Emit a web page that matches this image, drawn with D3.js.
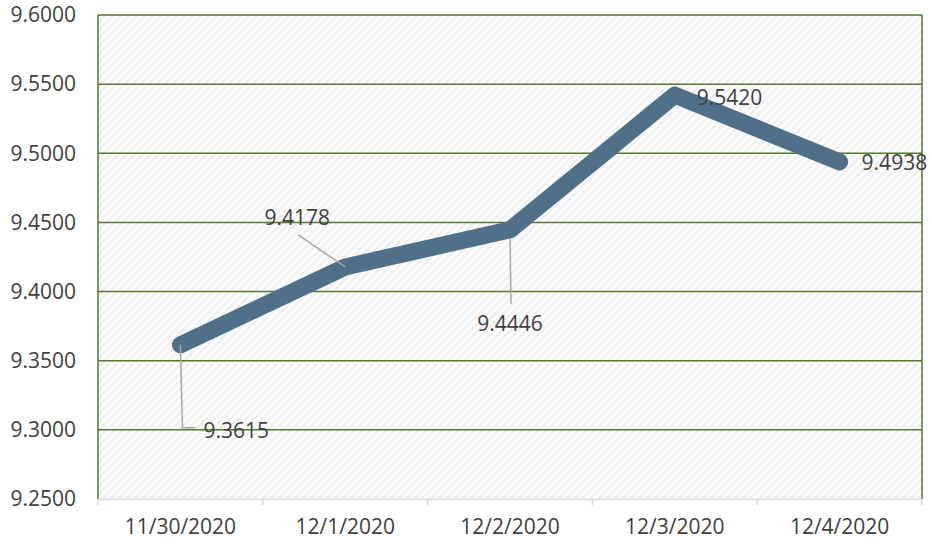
<!DOCTYPE html>
<html lang="en">
<head>
<meta charset="utf-8">
<title>Line chart</title>
<script src="https://cdn.jsdelivr.net/npm/d3@7"></script>
<style>
  body { margin: 0; background: white; }
  svg text { font-family: "Open Sans", sans-serif; fill: #404040; }
</style>
</head>
<body>
<div id="chart"></div>
<script>
// data
var dates = ["11/30/2020", "12/1/2020", "12/2/2020", "12/3/2020", "12/4/2020"];
var values = [9.3615, 9.4178, 9.4446, 9.5420, 9.4938];
var yTicks = [9.25, 9.30, 9.35, 9.40, 9.45, 9.50, 9.55, 9.60];

var W = 932, H = 547;
var margin = {top: 15, right: 10, bottom: 48, left: 98};
var width = W - margin.left - margin.right,
    height = H - margin.top - margin.bottom;

var svg = d3.select("#chart").append("svg")
    .attr("width", W).attr("height", H);

// hatch fill
var defs = svg.append("defs");
var pat = defs.append("pattern")
    .attr("id", "hatch")
    .attr("patternUnits", "userSpaceOnUse")
    .attr("width", 8).attr("height", 8);
pat.append("path")
    .attr("d", "M-2,2 l4,-4 M0,8 l8,-8 M6,10 l4,-4")
    .attr("stroke", "#f0f0f0")
    .attr("stroke-width", 3);

var g = svg.append("g")
    .attr("transform", "translate(" + margin.left + "," + margin.top + ")");

var x = d3.scaleBand().domain(dates).range([0, width]);
var y = d3.scaleLinear().domain([9.25, 9.60]).range([height, 0]);

g.append("rect")
    .attr("width", width).attr("height", height)
    .attr("fill", "url(#hatch)");

// grid lines
g.selectAll(".grid").data(yTicks.slice(1))
  .enter().append("line")
    .attr("x1", 0).attr("x2", width)
    .attr("y1", function(d) { return y(d); })
    .attr("y2", function(d) { return y(d); })
    .attr("stroke", "#4f7a2d").attr("stroke-width", 1.5);

// side borders
g.append("line").attr("x1", 0).attr("x2", 0).attr("y1", 0).attr("y2", height)
    .attr("stroke", "#4f7a2d").attr("stroke-width", 1.5);
g.append("line").attr("x1", width).attr("x2", width).attr("y1", 0).attr("y2", height)
    .attr("stroke", "#4f7a2d").attr("stroke-width", 1.5);

// y axis labels
var yAxis = d3.axisLeft(y).tickValues(yTicks).tickSize(0).tickPadding(22)
    .tickFormat(d3.format(".4f"));
var ya = g.append("g").call(yAxis);
ya.select(".domain").remove();
ya.selectAll("text").style("font-size", "21px").attr("fill", "#404040")
    .style("font-family", "'Open Sans', sans-serif");

// x axis
var xAxis = d3.axisBottom(x).tickSize(0).tickPadding(20);
var xa = g.append("g").attr("transform", "translate(0," + height + ")").call(xAxis);
xa.select(".domain").attr("stroke", "#d9d9d9").attr("stroke-width", 1.5);
xa.selectAll("text").style("font-size", "21px").attr("fill", "#404040")
    .style("font-family", "'Open Sans', sans-serif");
var bounds = dates.map(function(d) { return x(d); }).concat([width]);
xa.selectAll(".bnd").data(bounds).enter().append("line")
    .attr("x1", function(d) { return d; }).attr("x2", function(d) { return d; })
    .attr("y1", 0).attr("y2", 6)
    .attr("stroke", "#d9d9d9").attr("stroke-width", 1.5);

// line
var cx = function(i) { return x(dates[i]) + x.bandwidth() / 2; };
var line = d3.line()
    .x(function(d, i) { return cx(i); })
    .y(function(d) { return y(d); });
g.append("path").datum(values)
    .attr("d", line)
    .attr("fill", "none")
    .attr("stroke", "#4e7189")
    .attr("stroke-width", 17)
    .attr("stroke-linecap", "round")
    .attr("stroke-linejoin", "round");

// data labels with leader lines (offsets relative to point)
var labelPos = [
  {dx: 23, dy: 86, anchor: "start", leader: [[0, 0], [2, 83], [15, 83]]},
  {dx: -48, dy: -49, anchor: "middle", leader: [[0, 0], [-47, -32]]},
  {dx: 0, dy: 94, anchor: "middle", leader: [[0, 8], [1, 74]]},
  {dx: 22, dy: 2, anchor: "start", leader: null},
  {dx: 22, dy: 1, anchor: "start", leader: null}
];
var leaderLine = d3.line();
values.forEach(function(v, i) {
  var px = cx(i), py = y(v), p = labelPos[i];
  if (p.leader) {
    g.append("path")
      .attr("d", leaderLine(p.leader.map(function(q) { return [px + q[0], py + q[1]]; })))
      .attr("fill", "none").attr("stroke", "#a6a6a6").attr("stroke-width", 1.5);
  }
  g.append("text")
    .attr("x", px + p.dx).attr("y", py + p.dy)
    .attr("dy", "0.35em")
    .attr("text-anchor", p.anchor)
    .style("font-size", "21px")
    .text(d3.format(".4f")(v));
});
</script>
</body>
</html>
